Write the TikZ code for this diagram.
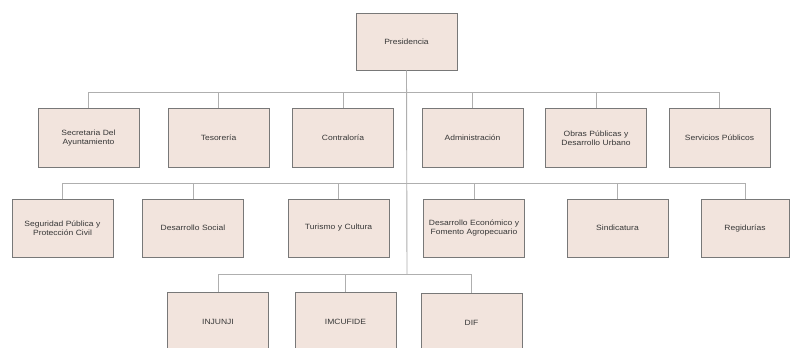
\documentclass[tikz,border=0pt]{standalone}
\usepackage{fontspec}
\setmainfont{Liberation Sans}
\newfontfamily\boxfont[FakeStretch=1.12]{Liberation Sans}
\definecolor{boxfill}{RGB}{242,228,221}
\definecolor{boxdraw}{RGB}{120,120,120}
\definecolor{linkc}{RGB}{175,175,175}
\definecolor{txt}{RGB}{55,55,55}
\newcommand{\boxfontsize}{\boxfont\fontsize{7.6}{8.6}\selectfont}
\tikzset{
  unit/.style={draw=boxdraw, line width=0.9pt, fill=boxfill, minimum width=101pt, text width=96pt, align=center, inner sep=0pt, font=\boxfontsize, text=txt},
  lbl/.style={font=\boxfontsize, text=txt, inner sep=0pt},
  link/.style={draw=linkc, line width=0.9pt}
}
\begin{document}
\begin{tikzpicture}[x=1pt,y=-1pt]
\useasboundingbox[fill=white] (0,0) rectangle (790,348);
% top
\node[unit, minimum height=57pt] (pres) at (406.5,41.5) {Presidencia};
% row 1
\node[unit, minimum height=59pt] (sec) at (88.5,138) {Secretaria Del\\Ayuntamiento};
\node[unit, minimum height=59pt] (tes) at (218.5,138) {Tesorería};
\node[unit, minimum height=59pt] (con) at (343,138) {Contraloría};
\node[unit, minimum height=59pt] (adm) at (472.5,138) {Administración};
\node[unit, minimum height=59pt] (obr) at (596,138) {Obras Públicas y\\Desarrollo Urbano};
\node[unit, minimum height=59pt] (ser) at (719.5,138) {Servicios Públicos};
% row 2
\node[unit, minimum height=58pt] (seg) at (62.5,228) {Seguridad Pública y\\Protección Civil};
\node[unit, minimum height=58pt] (dso) at (193,228) {Desarrollo Social};
\node[unit, minimum height=58pt] (tur) at (338.5,228) {Turismo y Cultura};
\node[unit, minimum height=58pt] (dec) at (474,228) {Desarrollo Económico y\\Fomento Agropecuario};
\node[unit, minimum height=58pt] (sin) at (617.5,228) {Sindicatura};
\node[unit, minimum height=58pt, minimum width=88pt, text width=84pt] (reg) at (745,228) {Regidurías};
% row 3
\node[unit, minimum height=58pt, anchor=north] (inj) at (218,292) {};
\node[lbl] (injt) at (218,322) {INJUNJI};
\node[unit, minimum height=58pt, anchor=north] (imc) at (345.5,292) {};
\node[lbl] (imct) at (345.5,322) {IMCUFIDE};
\node[unit, minimum height=58pt, anchor=north] (dif) at (471.5,293) {};
\node[lbl] (dift) at (471.5,323) {DIF};
% connectors
\coordinate (b1) at (407,92);
\coordinate (b2) at (407,183);
\coordinate (b3) at (407,274);
\draw[link] (pres.south) -- (b3);
\foreach \n in {sec,tes,con,adm,obr,ser} \draw[link] (b1) -| (\n.north);
\foreach \n in {seg,dso,tur,dec,sin,reg} \draw[link] (b2) -| (\n.north);
\foreach \n in {inj,imc,dif} \draw[link] (b3) -| (\n.north);
\end{tikzpicture}
\end{document}
